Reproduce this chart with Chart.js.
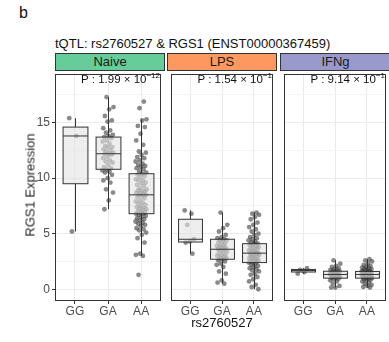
<!DOCTYPE html>
<html>
<head>
<meta charset="utf-8">
<script src="https://cdn.jsdelivr.net/npm/chart.js@4"></script>
<style>
  body { margin: 0; background: #fff; font-family: "Liberation Sans", Arial, sans-serif; }
  #wrap { position: relative; width: 389px; height: 342px; overflow: hidden; }
  canvas { position: absolute; }
  .txt { position: absolute; white-space: nowrap; color: #111; font-weight: normal; }
  .strip { position: absolute; top: 53px; height: 18px; box-sizing: border-box; border: 1px solid #333;
           font-size: 13px; text-align: center; line-height: 16px; color: #1a1a1a; }
  .pval { position: absolute; top: 71px; font-size: 11.5px; white-space: nowrap; text-align: right; color: #111; }
  .pval sup { font-size: 8px; vertical-align: 5px; }
</style>
</head>
<body>
<div id="wrap">
  <div class="txt" style="left:19px;top:4px;font-size:16px;">b</div>
  <div class="txt" style="left:55px;top:36px;font-size:13px;">tQTL: rs2760527 &amp; RGS1 (ENST00000367459)</div>

  <div class="strip" style="left:55px;width:110px;background:#66CC99;">Naive</div>
  <div class="strip" style="left:167px;width:110px;background:#FC9860;">LPS</div>
  <div class="strip" style="left:280px;width:111px;background:#9999CC;">IFNg</div>

  <canvas id="c1" width="165" height="250" style="left:0;top:70px;"></canvas>
  <canvas id="c2" width="110" height="250" style="left:167px;top:70px;"></canvas>
  <canvas id="c3" width="110" height="250" style="left:280px;top:70px;"></canvas>

  <div class="pval" style="right:229px;">P : 1.99 × 10<sup>−12</sup></div>
  <div class="pval" style="right:117px;">P : 1.54 × 10<sup>−1</sup></div>
  <div class="pval" style="right:4px;">P : 9.14 × 10<sup>−1</sup></div>

  <div class="txt" style="left:30px;top:185px;font-size:13px;color:#222;transform:translate(-50%,-50%) rotate(-90deg);">RGS1 Expression</div>
  <div class="txt" style="left:222px;top:315px;font-size:13px;transform:translateX(-50%);">rs2760527</div>
</div>

<script>
// genotype categories and axis ticks
const genotypes = ['GG', 'GA', 'AA'];
const yTicks = [0, 2.5, 5, 7.5, 10, 12.5, 15, 17.5];
const yLabelled = [0, 5, 10, 15];

// expression values
const naiveGG = [15.4, 13.8, 5.2];
const naiveGA = [17.3, 16.4, 16.2, 15.6, 15.2, 15.1, 14.5, 14.3, 14.1, 13.9, 13.8, 13.7, 13.6, 13.4, 13.3,
  13.1, 12.9, 12.8, 12.8, 12.6, 12.5, 12.4, 12.3, 12.2, 12.2, 12.1, 11.9, 11.8, 11.6, 11.5, 11.4, 11.2,
  11.0, 10.9, 10.8, 10.7, 10.6, 10.5, 10.3, 10.0, 9.8, 9.6, 9.0, 8.7, 8.0, 7.2];
const naiveAA = [16.9, 16.3, 15.3, 15.2, 14.7, 14.6, 14.0, 13.4, 13.0, 12.4, 12.3, 12.1, 11.9, 11.8, 11.6,
  11.5, 11.3, 11.2, 11.1, 11.0, 10.9, 10.8, 10.6, 10.5, 10.4, 10.3, 10.2, 10.1, 9.9, 9.8, 9.8, 9.6,
  9.5, 9.4, 9.3, 9.1, 9.0, 8.9, 8.9, 8.8, 8.7, 8.7, 8.6, 8.5, 8.5, 8.4, 8.3, 8.2, 8.0, 7.9, 7.8,
  7.7, 7.6, 7.5, 7.4, 7.3, 7.3, 7.2, 7.1, 7.0, 6.9, 6.9, 6.8, 6.8, 6.7, 6.6, 6.5, 6.4, 6.3, 6.2,
  6.1, 6.0, 5.9, 5.8, 5.7, 5.5, 5.4, 5.3, 5.1, 4.9, 4.6, 4.2, 3.2, 3.1, 3.0, 1.3];
const lpsGG = [7.1, 6.8, 5.8, 4.5, 4.3, 4.2, 3.2];
const lpsGA = [6.9, 5.8, 5.5, 5.2, 4.9, 4.7, 4.6, 4.5, 4.4, 4.4, 4.3, 4.2, 4.1, 4.0, 3.9, 3.9, 3.8, 3.7,
  3.7, 3.6, 3.6, 3.5, 3.4, 3.3, 3.2, 3.1, 3.0, 3.0, 2.9, 2.8, 2.8, 2.7, 2.6, 2.5, 2.3, 2.2, 2.0, 1.6,
  1.4, 0.8, 0.6, 0.5];
const lpsAA = [6.9, 6.8, 6.7, 6.5, 6.3, 6.0, 5.8, 5.6, 5.4, 5.2, 5.0, 4.9, 4.7, 4.6, 4.5, 4.4, 4.3, 4.2,
  4.1, 4.1, 4.0, 3.9, 3.9, 3.8, 3.7, 3.7, 3.6, 3.5, 3.5, 3.4, 3.4, 3.3, 3.3, 3.2, 3.2, 3.1, 3.1, 3.0,
  3.0, 2.9, 2.9, 2.8, 2.7, 2.7, 2.6, 2.6, 2.5, 2.5, 2.4, 2.4, 2.3, 2.2, 2.1, 2.0, 1.9, 1.8, 1.7, 1.6,
  1.4, 1.3, 1.1, 0.9, 0.7, 0.4, 0.2, 0.0];
const ifngGG = [1.4, 1.55, 1.75, 1.9];
const ifngGA = [2.6, 2.3, 2.1, 2.0, 1.9, 1.8, 1.75, 1.7, 1.65, 1.6, 1.55, 1.5, 1.45, 1.4, 1.38, 1.35,
  1.33, 1.3, 1.28, 1.25, 1.2, 1.15, 1.1, 1.05, 1.0, 0.95, 0.9, 0.8, 0.7, 0.5, 0.3, 0.15, 0.15];
const ifngAA = [2.7, 2.6, 2.5, 2.3, 2.2, 2.1, 2.0, 1.95, 1.9, 1.85, 1.8, 1.75, 1.7, 1.65, 1.6, 1.6, 1.55,
  1.5, 1.5, 1.45, 1.4, 1.4, 1.38, 1.35, 1.33, 1.3, 1.3, 1.28, 1.25, 1.2, 1.2, 1.15, 1.1, 1.1, 1.05,
  1.0, 1.0, 0.95, 0.9, 0.85, 0.8, 0.7, 0.6, 0.5, 0.4, 0.3, 0.2, 0.15];

// box stats [lower whisker, q1, median, q3, upper whisker] per genotype
const naiveBoxes = [[5.2, 9.5, 13.8, 14.6, 15.4], [7.2, 10.8, 12.2, 13.7, 17.3], [3.0, 6.8, 8.5, 10.4, 15.3]];
const lpsBoxes = [[3.2, 4.25, 4.5, 6.3, 7.1], [0.5, 2.7, 3.6, 4.5, 6.9], [0.0, 2.4, 3.25, 4.1, 6.9]];
const ifngBoxes = [[1.4, 1.55, 1.68, 1.78, 1.9], [0.15, 1.0, 1.33, 1.62, 2.6], [0.15, 1.0, 1.33, 1.6, 2.7]];

const Y_MIN = -1.06, Y_MAX = 19.38;

// spread points sideways like geom_jitter, but deterministic
function jitterPoints(groups) {
  const pts = [];
  groups.forEach((vals, g) => {
    vals.forEach((v, i) => {
      const j = (((i * 0.6180339 + g * 0.37) % 1) - 0.5) * 0.34;
      pts.push({ x: g + 1 + j, y: v });
    });
  });
  return pts;
}

const boxPlugin = {
  id: 'boxes',
  afterDatasetsDraw(chart, args, opts) {
    const { ctx, scales: { x, y } } = chart;
    ctx.save();
    ctx.strokeStyle = '#333';
    ctx.lineWidth = 1;
    opts.boxes.forEach((b, g) => {
      const cx = Math.round(x.getPixelForValue(g + 1)) + 0.5;
      const half = x.getPixelForValue(g + 1.375) - x.getPixelForValue(g + 1);
      const [lo, q1, med, q3, hi] = b.map(v => y.getPixelForValue(v));
      ctx.beginPath();
      ctx.moveTo(cx, lo); ctx.lineTo(cx, q1);
      ctx.moveTo(cx, q3); ctx.lineTo(cx, hi);
      ctx.stroke();
      ctx.fillStyle = 'rgba(228,228,228,0.62)';
      ctx.fillRect(cx - half, q3, half * 2, q1 - q3);
      ctx.strokeRect(cx - half, q3, half * 2, q1 - q3);
      ctx.beginPath();
      ctx.moveTo(cx - half, med); ctx.lineTo(cx + half, med);
      ctx.stroke();
    });
    // panel border
    const a = chart.chartArea;
    ctx.strokeRect(a.left + 0.5, a.top + 0.5, a.right - a.left - 1, a.bottom - a.top - 1);
    ctx.restore();
  }
};

function makePanel(id, groups, boxes, showY) {
  const tickFont = { family: 'Liberation Sans, Arial, sans-serif', size: 12 };
  return new Chart(document.getElementById(id), {
    type: 'scatter',
    data: {
      datasets: [{
        data: jitterPoints(groups),
        backgroundColor: 'rgba(60,60,60,0.6)',
        borderWidth: 0,
        pointRadius: 2.4
      }]
    },
    options: {
      responsive: false,
      animation: false,
      events: [],
      layout: { padding: 0 },
      plugins: { legend: { display: false }, tooltip: { enabled: false }, boxes: { boxes } },
      scales: {
        x: {
          type: 'linear', min: 0.4, max: 3.6,
          afterBuildTicks: s => { s.ticks = [1, 2, 3].map(v => ({ value: v })); },
          afterFit: s => { s.height = 19; s.paddingLeft = 0; s.paddingRight = 0; },
          border: { display: false },
          grid: { color: '#ebebeb', lineWidth: 1, tickLength: 3, tickColor: '#333' },
          ticks: { font: tickFont, color: '#4d4d4d', padding: 0, maxRotation: 0,
                   callback: v => genotypes[v - 1] }
        },
        y: {
          type: 'linear', min: Y_MIN, max: Y_MAX,
          afterBuildTicks: s => { s.ticks = yTicks.map(v => ({ value: v })); },
          afterFit: s => { s.width = showY ? 55 : 0; s.paddingTop = 0; s.paddingBottom = 0; },
          border: { display: false },
          grid: {
            color: c => yLabelled.includes(c.tick.value) ? '#ebebeb' : '#f4f4f4',
            lineWidth: 1,
            drawTicks: showY, tickLength: 3,
            tickColor: c => yLabelled.includes(c.tick.value) ? '#333' : 'rgba(0,0,0,0)'
          },
          ticks: { display: showY, font: tickFont, color: '#4d4d4d', padding: 2,
                   callback: v => yLabelled.includes(v) ? String(v) : '' }
        }
      }
    },
    plugins: [boxPlugin]
  });
}

makePanel('c1', [naiveGG, naiveGA, naiveAA], naiveBoxes, true);
makePanel('c2', [lpsGG, lpsGA, lpsAA], lpsBoxes, false);
makePanel('c3', [ifngGG, ifngGA, ifngAA], ifngBoxes, false);
</script>
</body>
</html>
